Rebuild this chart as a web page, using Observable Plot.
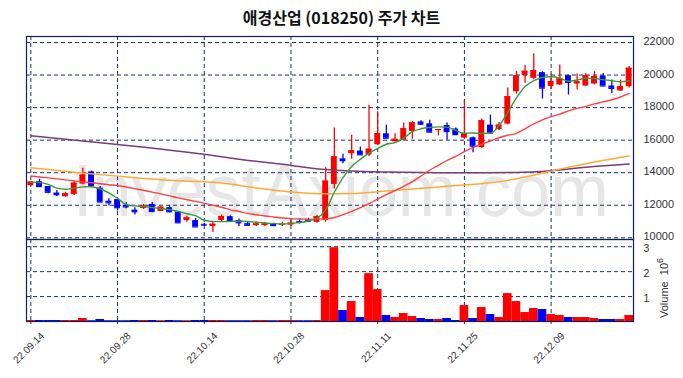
<!DOCTYPE html>
<html><head><meta charset="utf-8">
<script src="https://cdn.jsdelivr.net/npm/d3@7"></script>
<script src="https://cdn.jsdelivr.net/npm/@observablehq/plot@0.6"></script>
<style>
body{margin:0;background:#fff;}
#wrap{position:relative;width:683px;height:378px;overflow:hidden;font-family:"Liberation Sans",Arial,sans-serif;}
#title{position:absolute;left:0;top:7px;width:683px;text-align:center;font:bold 16px "Noto Sans CJK KR",sans-serif;color:#111;line-height:20px;}
#price{position:absolute;left:0;top:0;}
#vol{position:absolute;left:0;top:238px;}
</style></head><body>
<div id="wrap"><div id="price"></div><div id="vol"></div><div id="title">애경산업 (018250) 주가 차트</div></div>
<script>
const dates = ["22.09.14","22.09.15","22.09.16","22.09.19","22.09.20","22.09.21","22.09.22","22.09.23","22.09.26","22.09.27",
"22.09.28","22.09.29","22.09.30","22.10.04","22.10.05","22.10.06","22.10.07","22.10.11","22.10.12","22.10.13",
"22.10.14","22.10.17","22.10.18","22.10.19","22.10.20","22.10.21","22.10.24","22.10.25","22.10.26","22.10.27",
"22.10.28","22.10.31","22.11.01","22.11.02","22.11.03","22.11.04","22.11.07","22.11.08","22.11.09","22.11.10",
"22.11.11","22.11.14","22.11.15","22.11.16","22.11.17","22.11.18","22.11.21","22.11.22","22.11.23","22.11.24",
"22.11.25","22.11.28","22.11.29","22.11.30","22.12.01","22.12.02","22.12.05","22.12.06","22.12.07","22.12.08",
"22.12.09","22.12.12","22.12.13","22.12.14","22.12.15","22.12.16","22.12.19","22.12.20","22.12.21","22.12.22"];
const opens = [13200,13450,13150,12750,12520,12650,13300,14050,13050,12250,
12350,12000,11700,11800,12050,11620,11850,11580,11060,11060,
10830,10690,11060,11300,11060,10870,10750,10750,10850,10800,
10780,11000,11100,10950,11060,13280,14850,15170,15330,15090,
15725,16390,15900,16000,16530,17120,17000,16620,16900,16680,
16120,16150,15540,16920,16650,16985,18975,19965,19800,20150,
19300,19390,19960,19450,19330,19450,19945,19330,19020,19285];
const highs = [13440,13600,13150,12900,12800,13480,14270,14100,13150,12400,
12350,12150,11850,12050,12170,11900,12000,11600,11320,11200,
10900,10970,11400,11350,11160,10950,10970,10950,10900,10950,
11100,11150,11200,11380,14300,16740,15130,16300,15580,18150,
17740,16920,16400,17050,17140,17200,17230,16650,17050,16750,
18420,16200,17300,17540,17080,19200,20210,20600,21300,20200,
20050,20620,20000,20070,20080,20210,20100,19700,19700,20520];
const lows = [13190,13150,12700,12520,12500,12600,13240,13150,12200,11950,
11650,11780,11400,11740,11620,11600,11530,10900,10950,10670,
10700,10330,11000,11000,10700,10700,10700,10700,10700,10700,
10700,10850,10950,10900,10950,13000,14550,14820,15070,15000,
15650,16100,15880,15950,16060,16900,16490,16260,16000,16300,
16050,15230,15500,16400,16600,16950,18830,19490,19700,18530,
19100,19350,18770,19080,19300,19400,19300,18870,19000,19200];
const closes = [13420,13150,12800,12650,12700,13350,13850,13200,12200,12150,
11850,11900,11600,11950,11620,11880,11600,10920,11220,10670,
10780,10830,11300,11060,10920,10770,10850,10850,10750,10830,
10900,10950,11010,11300,13480,14970,14740,15340,15100,15440,
16400,16120,16050,16700,17060,16980,16490,16650,16530,16340,
16400,15630,17190,16430,16920,18670,19945,20230,20270,19200,
19600,19760,19550,19580,19950,19900,19330,19180,19290,20415];
// volume, millions of shares
const volumes = [0.04,0.04,0.04,0.04,0.04,0.04,0.12,0.03,0.08,0.03,
0.03,0.03,0.04,0.04,0.04,0.03,0.04,0.03,0.03,0.04,
0.04,0.04,0.04,0.03,0.03,0.03,0.04,0.04,0.03,0.04,
0.04,0.03,0.03,0.04,1.24,2.96,0.44,0.80,0.16,1.92,
1.28,0.24,0.16,0.32,0.20,0.12,0.08,0.08,0.12,0.04,
0.64,0.12,0.56,0.28,0.16,1.12,0.80,0.36,0.52,0.48,
0.28,0.24,0.16,0.16,0.16,0.12,0.08,0.08,0.08,0.24];
const ma5 = [13420,13400,13280,13050,12980,13050,13130,13140,13000,12760,
12420,12040,11960,11920,11860,11800,11730,11620,11480,11360,
11080,11010,10995,11010,11020,11000,10960,10910,10870,10850,
10880,10930,11030,11200,11700,12800,13700,14380,14820,15200,
15500,15750,15850,16130,16520,16700,16780,16815,16800,16600,
16420,16440,16410,16420,16900,17700,18600,19300,19650,19850,
19900,19820,19620,19700,19800,19780,19720,19650,19590,19650];
const ma20 = [13800,13740,13680,13620,13560,13500,13440,13380,13320,13260,
13200,13120,13020,12920,12810,12700,12580,12450,12340,12240,
12130,12000,11880,11720,11620,11500,11420,11340,11280,11220,
11180,11160,11150,11150,11160,11250,11420,11620,11850,12100,
12380,12650,12900,13160,13450,13800,14150,14450,14750,15000,
15300,15550,15750,15950,16150,16300,16420,16700,17000,17250,
17450,17600,17800,17950,18080,18230,18350,18480,18650,18870];
const ma60Idx = [0,5,10,16,22,26,30,34,37,41,45,49,53,57,61,65,69];
const ma60Val = [14300,14030,13790,13530,13370,13060,12820,12700,12720,12870,13040,13210,13380,13730,14220,14660,15030];
const ma120Idx = [0,10,20,24,30,34,37,41,47,52,56,60,64,69];
const ma120Val = [16270,15740,15130,14830,14450,14190,14100,14040,14000,13990,14010,14120,14330,14530];
const tickDates = ["22.09.14","22.09.28","22.10.14","22.10.28","22.11.11","22.11.25","22.12.09"];
const priceTicks = [10000,12000,14000,16000,18000,20000,22000];
const volTicks = [1,2,3];

const rows = dates.map((d,i)=>({date:d, open:opens[i], high:highs[i], low:lows[i], close:closes[i], vol:volumes[i],
  col: closes[i] >= opens[i] ? "#ff0000" : "#0000ff"}));
const maRows = (vals)=>vals.map((v,i)=>({date:dates[i], v}));
const sparse = (idx, vals)=>idx.map((k,j)=>({date:dates[k], v:vals[j]}));

const navy = "#0c1f5e";
const gridC = "#1a3170";
const dash = {stroke: gridC, strokeDasharray: "4,3", strokeWidth: 1};
const W = 683;
const xScale = {type:"band", domain: dates, padding: 0, round: false};
const baseStyle = {fontFamily: "'Liberation Sans', Arial, sans-serif", fontSize: "11px", color: "#333", background: "transparent", overflow: "visible"};

const price = Plot.plot({
  width: W, height: 240, marginTop: 36, marginBottom: 1, marginLeft: 26, marginRight: 50,
  x: {...xScale, axis: null},
  y: {domain: [9896, 22369], axis: null},
  color: {type: "identity"},
  style: baseStyle,
  marks: [
    Plot.ruleY(priceTicks, dash),
    Plot.ruleX(tickDates, {x: d=>d, ...dash}),
    Plot.ruleX(rows, {x: "date", y1: "low", y2: "high", stroke: "col", strokeWidth: 1.3}),
    Plot.barY(rows, {x: "date", y1: "open", y2: "close", fill: "col", insetLeft: 1.4, insetRight: 1.4}),
    Plot.tickY(rows, {x: "date", y: "close", stroke: "col", insetLeft: 1.4, insetRight: 1.4, strokeWidth: 1.2}),
    Plot.line(sparse(ma120Idx, ma120Val), {x: "date", y: "v", stroke: "#7a3b7a", strokeWidth: 1.5, curve: "monotone-x"}),
    Plot.line(sparse(ma60Idx, ma60Val), {x: "date", y: "v", stroke: "#ffaa33", strokeWidth: 1.5, curve: "monotone-x"}),
    Plot.line(maRows(ma20), {x: "date", y: "v", stroke: "#ff4040", strokeWidth: 1.4, curve: "monotone-x"}),
    Plot.line(maRows(ma5), {x: "date", y: "v", stroke: "#3a9a3a", strokeWidth: 1.4, curve: "monotone-x"}),
    Plot.axisY(priceTicks, {anchor: "right", label: null, tickSize: 0, tickPadding: 10, dy: -1, tickFormat: d=>String(d)}),
    Plot.frame({stroke: navy, strokeWidth: 1.2})
  ]
});
d3.select(price).insert("text", "g")
  .attr("x", 341).attr("y", 216)
  .attr("text-anchor", "middle")
  .attr("textLength", 536).attr("lengthAdjust", "spacingAndGlyphs")
  .attr("fill", "#e6e6e6")
  .style("font", "74px 'Liberation Sans', Arial, sans-serif")
  .text("InvestAxiom.com");
document.getElementById("price").appendChild(price);

const vol = Plot.plot({
  width: W, height: 140, marginTop: 1, marginBottom: 57, marginLeft: 26, marginRight: 50,
  x: {...xScale, axis: null},
  y: {domain: [0, 3.29], axis: null},
  color: {type: "identity"},
  style: baseStyle,
  marks: [
    Plot.ruleY(volTicks, dash),
    Plot.ruleX(tickDates, {x: d=>d, ...dash}),
    Plot.barY(rows, {x: "date", y: "vol", fill: "col"}),
    Plot.axisY(volTicks, {anchor: "right", label: null, tickSize: 0, tickPadding: 10, dy: 2, fontSize: 10.5, tickFormat: d=>String(d)}),
    Plot.axisX(tickDates, {anchor: "bottom", label: null, tickSize: 3, tickFormat: () => ""}),
    Plot.text(tickDates, {x: d=>d, frameAnchor: "bottom", text: d=>d, rotate: -45, textAnchor: "end",
      dx: 14, dy: 15, fontSize: 10, fill: "#333"}),
    Plot.frame({stroke: navy, strokeWidth: 1.2})
  ]
});
const lbl = d3.select(vol).append("text")
  .attr("transform", "translate(668,50) rotate(-90)")
  .attr("text-anchor", "middle")
  .attr("fill", "#333")
  .style("font", "11px 'Liberation Sans', Arial, sans-serif");
lbl.append("tspan").text("Volume  10");
lbl.append("tspan").attr("dy", -5).style("font-size", "9px").text("6");
document.getElementById("vol").appendChild(vol);
</script>
</body></html>
